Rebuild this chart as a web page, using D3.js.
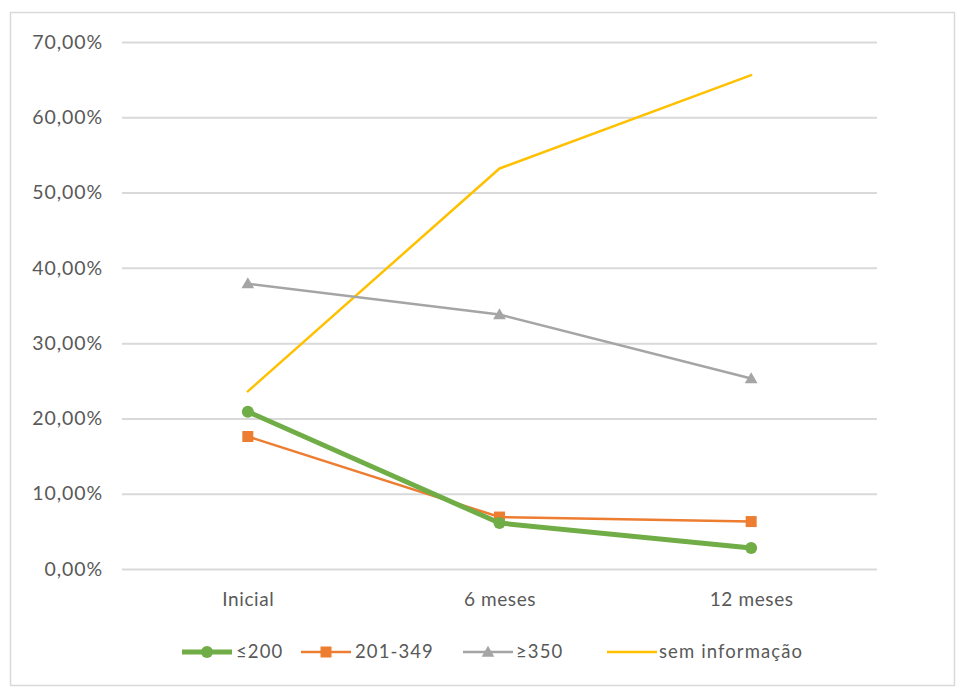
<!DOCTYPE html>
<html>
<head>
<meta charset="utf-8">
<script src="https://cdn.jsdelivr.net/npm/d3@7"></script>
<style>
  html, body { margin: 0; padding: 0; background: #fff; }
  svg { display: block; }
  text { font-family: Lato, "Open Sans", sans-serif; fill: #595959; }
</style>
</head>
<body>
<svg id="chart" width="957" height="689"></svg>
<script>
// Categories (follow-up time points)
const categories = ["Inicial", "6 meses", "12 meses"];

// Share of patients per group, in percent
const seriesNames = ["≤200", "201-349", "≥350", "sem informação"];
const lte200 = [20.9, 6.1, 2.8];
const from201to349 = [17.6, 6.9, 6.3];
const gte350 = [37.9, 33.8, 25.3];
const semInformacao = [23.6, 53.2, 65.6];

// Y axis ticks
const yTicks = [0, 10, 20, 30, 40, 50, 60, 70];

const series = [
  { name: seriesNames[0], values: lte200, color: "#70ad47", width: 5, marker: "circle" },
  { name: seriesNames[1], values: from201to349, color: "#ed7d31", width: 2.5, marker: "square" },
  { name: seriesNames[2], values: gte350, color: "#a5a5a5", width: 2.5, marker: "triangle" },
  { name: seriesNames[3], values: semInformacao, color: "#ffc000", width: 2.5, marker: null }
];

const svg = d3.select("#chart");

// chart area border
svg.append("rect")
  .attr("x", 10.5).attr("y", 12.5)
  .attr("width", 944).attr("height", 673)
  .attr("fill", "#fff").attr("stroke", "#d9d9d9").attr("stroke-width", 1.5);

const plot = { left: 122, right: 877, top: 42, bottom: 569 };

const x = d3.scalePoint()
  .domain(categories)
  .range([plot.left, plot.right])
  .padding(0.5);

const y = d3.scaleLinear()
  .domain([0, 70])
  .range([plot.bottom, plot.top]);

const fmt = v => d3.format(".2f")(v).replace(".", ",") + "%";

// horizontal gridlines and y labels
const yAxis = d3.axisLeft(y)
  .tickValues(yTicks)
  .tickSize(-(plot.right - plot.left))
  .tickPadding(19)
  .tickFormat(fmt);

const gy = svg.append("g")
  .attr("transform", `translate(${plot.left},0)`)
  .call(yAxis);
gy.select(".domain").remove();
gy.selectAll(".tick line").attr("stroke", "#d9d9d9").attr("stroke-width", 2);
gy.selectAll(".tick text")
  .attr("font-size", 19.5)
  .attr("letter-spacing", 0.9)
  .attr("fill", "#595959")
  .style("font-family", "Lato, 'Open Sans', sans-serif");

// category labels
const xAxis = d3.axisBottom(x).tickSize(0).tickPadding(24);
const gx = svg.append("g")
  .attr("transform", `translate(0,${plot.bottom})`)
  .call(xAxis);
gx.select(".domain").remove();
gx.selectAll(".tick text")
  .attr("font-size", 19)
  .attr("letter-spacing", 0.6)
  .attr("fill", "#595959")
  .style("font-family", "Lato, 'Open Sans', sans-serif");

const line = d3.line()
  .x((d, i) => x(categories[i]))
  .y(d => y(d));

function drawMarker(g, type, cx, cy, color) {
  if (type === "circle") {
    g.append("circle").attr("cx", cx).attr("cy", cy).attr("r", 6).attr("fill", color);
  } else if (type === "square") {
    g.append("rect").attr("x", cx - 5.5).attr("y", cy - 5.5)
      .attr("width", 11).attr("height", 11).attr("fill", color);
  } else if (type === "triangle") {
    g.append("path")
      .attr("d", d3.symbol().type(d3.symbolTriangle).size(70)())
      .attr("transform", `translate(${cx},${cy + 1})`)
      .attr("fill", color);
  }
}

// draw series in reverse so the first series sits on top
[...series].reverse().forEach(s => {
  const g = svg.append("g");
  g.append("path")
    .datum(s.values)
    .attr("d", line)
    .attr("fill", "none")
    .attr("stroke", s.color)
    .attr("stroke-width", s.width)
    .attr("stroke-linejoin", "round")
    .attr("stroke-linecap", "round");
  if (s.marker) {
    s.values.forEach((v, i) => drawMarker(g, s.marker, x(categories[i]), y(v), s.color));
  }
});

// legend
const legendY = 652;
const legendItems = [
  { lineX: 182, textX: 236 },
  { lineX: 301, textX: 355 },
  { lineX: 463, textX: 516 },
  { lineX: 607, textX: 659 }
];
series.forEach((s, i) => {
  const li = legendItems[i];
  const g = svg.append("g");
  g.append("line")
    .attr("x1", li.lineX).attr("x2", li.lineX + 50)
    .attr("y1", legendY).attr("y2", legendY)
    .attr("stroke", s.color).attr("stroke-width", s.width);
  if (s.marker) drawMarker(g, s.marker, li.lineX + 25, legendY, s.color);
  g.append("text")
    .attr("x", li.textX).attr("y", legendY)
    .attr("dy", "0.35em")
    .attr("font-size", 18.5)
    .attr("letter-spacing", 1.1)
    .text(s.name);
});
</script>
</body>
</html>
